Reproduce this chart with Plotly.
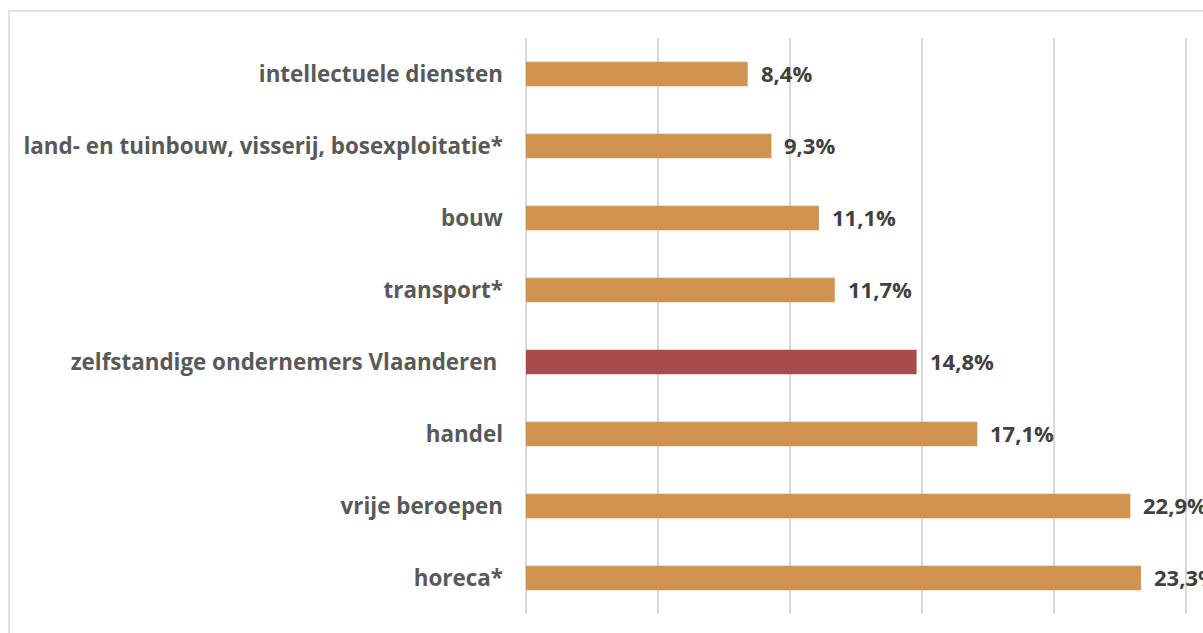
import plotly.graph_objects as go

categories = [
    "intellectuele diensten",
    "land- en tuinbouw, visserij, bosexploitatie*",
    "bouw",
    "transport*",
    "zelfstandige ondernemers Vlaanderen\u00a0",
    "handel",
    "vrije beroepen",
    "horeca*",
]
values = [8.4, 9.3, 11.1, 11.7, 14.8, 17.1, 22.9, 23.3]
highlight = "zelfstandige ondernemers Vlaanderen\u00a0"
labels = [f"{v:.1f}%".replace(".", ",") for v in values]

ORANGE = "#D09350"
RED = "#A84B4A"
colors = [RED if c == highlight else ORANGE for c in categories]

fig = go.Figure()
fig.add_trace(go.Bar(
    y=categories, x=values, orientation="h",
    marker=dict(color=colors, line=dict(width=0)),
    width=0.34, hoverinfo="skip", showlegend=False,
))

for c, v, t in zip(categories, values, labels):
    fig.add_annotation(x=v, y=c, text=t, showarrow=False, xanchor="left",
                       xshift=11, yshift=1,
                       font=dict(family="Open Sans", size=22, color="#404040", weight="bold"))

W, H = 1203, 633
L, R, T, B = 526, 4, 38, 19
fig.update_layout(
    width=W, height=H,
    margin=dict(l=L, r=R, t=T, b=B),
    paper_bgcolor="white", plot_bgcolor="white",
    bargap=0.66,
    font=dict(family="Open Sans", size=22, color="#595959"),
    xaxis=dict(range=[0, 25.5], dtick=5, showgrid=True, gridcolor="#D9D9D9",
               gridwidth=1.5, showticklabels=False, zeroline=True,
               zerolinecolor="#D9D9D9", zerolinewidth=1.5, showline=False, fixedrange=True),
    yaxis=dict(autorange="reversed", showgrid=False, ticks="", ticklabelstandoff=22,
               tickfont=dict(family="Open Sans", size=22.4, color="#595959", weight="bold"),
               showline=False, zeroline=False, fixedrange=True),
)

pw = W - L - R
ph = H - T - B
fig.add_shape(type="rect", xref="paper", yref="paper",
              x0=(9 - L) / pw, x1=1.2, y0=-0.2, y1=1 + (T - 11) / ph,
              line=dict(color="#D9D9D9", width=1.5), fillcolor="rgba(0,0,0,0)", layer="below")

fig.write_html("out.html",
               config={"displayModeBar": False},
               post_script="document.body.style.margin='0';document.body.style.overflow='hidden';")
